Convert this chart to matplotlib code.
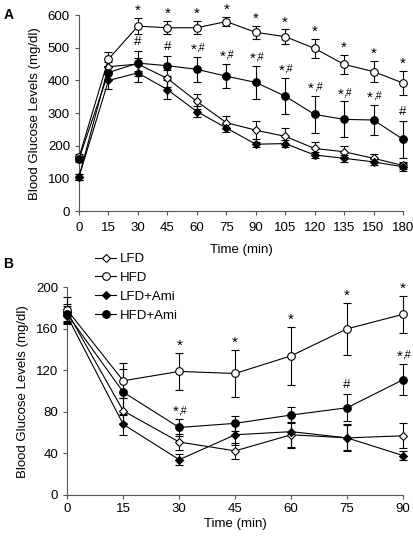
import matplotlib
matplotlib.use('Agg')
import matplotlib.pyplot as plt
from matplotlib.lines import Line2D
import numpy as np

plt.rcParams['font.family'] = ['Liberation Sans', 'DejaVu Sans']
plt.rcParams['font.size'] = 9

# Panel A: glucose tolerance
times_a = ['0', '15', '30', '45', '60', '75', '90', '105', '120', '135', '150', '180']
lfd_a = [105, 442, 450, 406, 336, 271, 248, 229, 192, 182, 162, 140]
lfd_a_err = [8, 15, 20, 25, 22, 20, 27, 27, 20, 17, 12, 12]
hfd_a = [165, 465, 566, 561, 561, 580, 547, 534, 498, 449, 427, 392]
hfd_a_err = [10, 22, 24, 20, 20, 14, 20, 22, 28, 30, 32, 38]
lfd_ami_a = [105, 400, 423, 372, 305, 255, 205, 207, 172, 162, 151, 136]
lfd_ami_a_err = [8, 25, 28, 28, 18, 12, 8, 12, 10, 10, 10, 12]
hfd_ami_a = [160, 424, 453, 445, 434, 413, 394, 352, 296, 281, 279, 220]
hfd_ami_a_err = [10, 20, 38, 31, 38, 37, 50, 55, 56, 55, 46, 57]
sig_hfd_a = ['', '', '*', '*', '*', '*', '*', '*', '*', '*', '*', '*']
sig_hfd_ami_a = ['', '', '#', '#', '*,#', '*,#', '*,#', '*,#', '*,#', '*,#', '*,#', '#']

# Panel B: insulin tolerance
times_b = [0, 15, 30, 45, 60, 75, 90]
lfd_b = [176, 81, 51, 42.5, 58, 55, 57]
lfd_b_err = [8, 12, 8, 8, 12, 12, 12]
hfd_b = [178, 110, 119, 117, 134, 160, 174]
hfd_b_err = [13, 17, 18, 23, 28, 25, 18]
lfd_ami_b = [172, 68, 34, 58, 61, 55, 38]
lfd_ami_b_err = [5, 10, 5, 10, 16, 13, 4]
hfd_ami_b = [174, 99, 65, 69, 77, 84, 111]
hfd_ami_b_err = [8, 22, 8, 7, 8, 13, 15]
sig_hfd_b = ['', '', '*', '*', '*', '*', '*']
sig_hfd_ami_b = ['', '', '*,#', '', '', '#', '*,#']

groups = ['LFD', 'HFD', 'LFD+Ami', 'HFD+Ami']
styles = {
    'LFD': dict(marker='D', ms=4.5, mfc='white'),
    'HFD': dict(marker='o', ms=5.5, mfc='white'),
    'LFD+Ami': dict(marker='D', ms=4, mfc='black'),
    'HFD+Ami': dict(marker='o', ms=5.5, mfc='black'),
}

fig = plt.figure(figsize=(4.14, 5.36), dpi=100)
ax_a = fig.add_axes([0.1908, 0.6058, 0.7826, 0.3662])
ax_b = fig.add_axes([0.1626, 0.0765, 0.8109, 0.3875])


def draw(ax, x, series, errs):
    for g, y, e in zip(groups, series, errs):
        ax.errorbar(x, y, yerr=e, color='black', lw=0.8, elinewidth=0.8,
                    capsize=3, capthick=0.8, mec='black', mew=0.8,
                    clip_on=False, zorder=3, **styles[g])


def mark(ax, x, y, e, labels):
    for xi, yi, ei, s in zip(x, y, e, labels):
        if not s:
            continue
        if s == '*,#':
            ax.annotate('*', (xi, yi + ei), xytext=(-2.5, 0), textcoords='offset points',
                        ha='center', va='bottom', fontsize=11, annotation_clip=False)
            ax.annotate(',#', (xi, yi + ei), xytext=(2.5, 3), textcoords='offset points',
                        ha='center', va='bottom', fontsize=7.5, annotation_clip=False)
        elif s == '*':
            ax.annotate('*', (xi, yi + ei), xytext=(0, 0), textcoords='offset points',
                        ha='center', va='bottom', fontsize=11, annotation_clip=False)
        else:
            ax.annotate(s, (xi, yi + ei), xytext=(0, 2), textcoords='offset points',
                        ha='center', va='bottom', fontsize=9.5, annotation_clip=False)


xa = np.arange(len(times_a))
draw(ax_a, xa, [lfd_a, hfd_a, lfd_ami_a, hfd_ami_a],
     [lfd_a_err, hfd_a_err, lfd_ami_a_err, hfd_ami_a_err])
mark(ax_a, xa, hfd_a, hfd_a_err, sig_hfd_a)
mark(ax_a, xa, hfd_ami_a, hfd_ami_a_err, sig_hfd_ami_a)
ax_a.set_xlim(0, len(times_a) - 1)
ax_a.set_ylim(0, 600)
ax_a.set_xticks(xa)
ax_a.set_xticklabels(times_a)
ax_a.set_yticks(np.arange(0, 601, 100))

draw(ax_b, times_b, [lfd_b, hfd_b, lfd_ami_b, hfd_ami_b],
     [lfd_b_err, hfd_b_err, lfd_ami_b_err, hfd_ami_b_err])
mark(ax_b, times_b, hfd_b, hfd_b_err, sig_hfd_b)
mark(ax_b, times_b, hfd_ami_b, hfd_ami_b_err, sig_hfd_ami_b)
ax_b.set_xlim(0, 90)
ax_b.set_ylim(0, 200)
ax_b.set_xticks(times_b)
ax_b.set_yticks(np.arange(0, 201, 40))

for ax in (ax_a, ax_b):
    ax.spines['top'].set_visible(False)
    ax.spines['right'].set_visible(False)
    ax.spines['left'].set_color('#555555')
    ax.spines['bottom'].set_color('#555555')
    ax.tick_params(direction='out', length=3, width=0.8, color='#555555',
                   labelsize=9.5)
    ax.set_ylabel('Blood Glucose Levels (mg/dl)', labelpad=5, fontsize=9.5)

ax_a.tick_params(axis='x', pad=5)
ax_a.set_xlabel('Time (min)', labelpad=7, fontsize=9.5)
ax_b.tick_params(axis='x', pad=3)
ax_b.set_xlabel('Time (min)', labelpad=2, fontsize=9.5)

fig.text(0.008, 0.985, 'A', fontsize=10, fontweight='bold', va='top')
fig.text(0.008, 0.52, 'B', fontsize=10, fontweight='bold', va='top')

handles = [Line2D([], [], color='black', lw=0.8, mec='black', mew=0.8, **styles[g])
           for g in groups]
fig.legend(handles, groups, loc='upper left',
           bbox_to_anchor=(0.2295, 0.528), frameon=False, borderpad=0,
           borderaxespad=0, handlelength=1.6, handletextpad=0.3,
           labelspacing=0.5, fontsize=9.5)

fig.savefig('out.png', dpi=100)
